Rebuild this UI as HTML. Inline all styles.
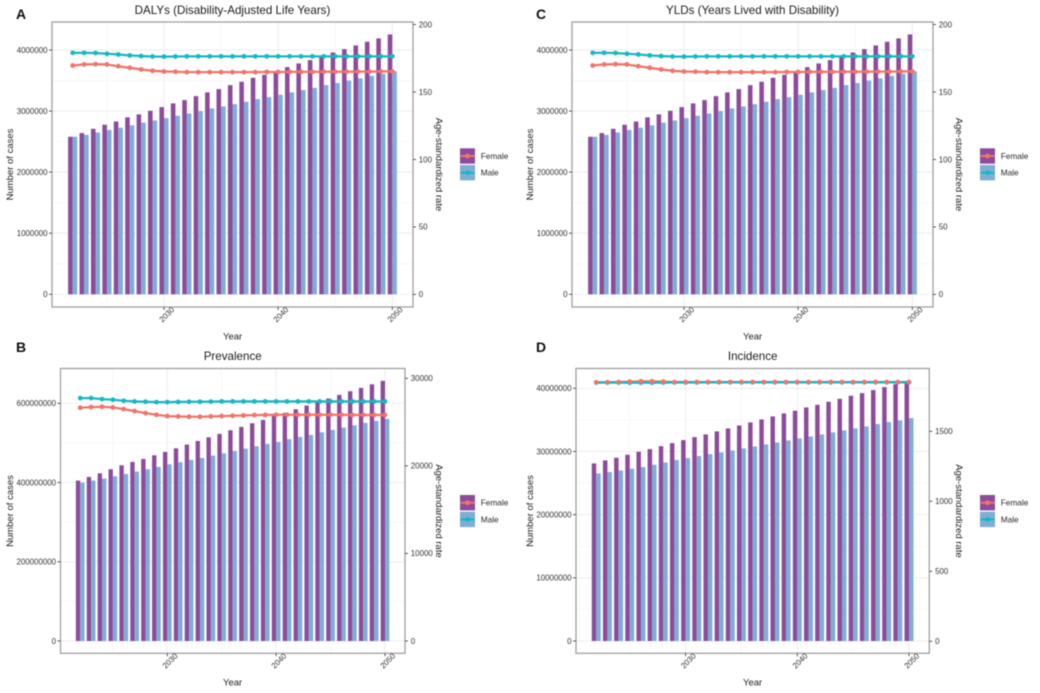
<!DOCTYPE html>
<html lang="en">
<head>
<meta charset="utf-8">
<title>Disease burden projections 2022–2050</title>
<style>
html,body{margin:0;padding:0;background:#fff;width:1040px;height:693px;overflow:hidden}
svg{display:block;filter:blur(.4px)}
text{font-family:"Liberation Sans",sans-serif;fill:#333}
.title{font-size:11.6px;fill:#1c1c1c;text-anchor:middle}
.tag{font-size:14px;font-weight:bold;fill:#111}
.axt{font-size:9.5px;fill:#1c1c1c;text-anchor:middle}
.tick{font-size:7.9px;fill:#333}
.leg{font-size:8.3px;fill:#2a2a2a}
</style>
</head>
<body>
<svg id="figure" width="1040" height="693" viewBox="0 0 1040 693" xmlns="http://www.w3.org/2000/svg">
<rect width="1040" height="693" fill="#fff"/>

<g id="panel-a">
  <g id="marks-a"></g>
  <text class="tag" x="16" y="19">A</text>
  <text class="title" x="232.5" y="14">DALYs (Disability-Adjusted Life Years)</text>
  <text class="axt" x="232.6" y="339.5">Year</text>
  <text class="axt" transform="translate(13,164.5) rotate(-90)">Number of cases</text>
  <text class="axt" transform="translate(436,164.5) rotate(90)">Age-standardized rate</text>
  <g>
    <g>
      <rect x="460" y="148.3" width="15" height="15.4" fill="#8E4B9B"/><line x1="460.5" x2="474.5" y1="156" y2="156" stroke="#F0746C" stroke-width="2"/><circle cx="467.5" cy="156" r="2.4" fill="#F0746C"/>
      <text class="leg" x="480.7" y="159">Female</text>
    </g>
    <g>
      <rect x="460" y="165" width="15" height="15.4" fill="#7FAED4"/><line x1="460.5" x2="474.5" y1="172.7" y2="172.7" stroke="#17B8C2" stroke-width="2"/><circle cx="467.5" cy="172.7" r="2.4" fill="#17B8C2"/>
      <text class="leg" x="480.7" y="175.7">Male</text>
    </g>
  </g>
</g>

<g id="panel-c">
  <g id="marks-c"></g>
  <text class="tag" x="536" y="19">C</text>
  <text class="title" x="752.5" y="14">YLDs (Years Lived with Disability)</text>
  <text class="axt" x="752.6" y="339.5">Year</text>
  <text class="axt" transform="translate(533,164.5) rotate(-90)">Number of cases</text>
  <text class="axt" transform="translate(956,164.5) rotate(90)">Age-standardized rate</text>
  <g>
    <g>
      <rect x="980" y="148.3" width="15" height="15.4" fill="#8E4B9B"/><line x1="980.5" x2="994.5" y1="156" y2="156" stroke="#F0746C" stroke-width="2"/><circle cx="987.5" cy="156" r="2.4" fill="#F0746C"/>
      <text class="leg" x="1000.7" y="159">Female</text>
    </g>
    <g>
      <rect x="980" y="165" width="15" height="15.4" fill="#7FAED4"/><line x1="980.5" x2="994.5" y1="172.7" y2="172.7" stroke="#17B8C2" stroke-width="2"/><circle cx="987.5" cy="172.7" r="2.4" fill="#17B8C2"/>
      <text class="leg" x="1000.7" y="175.7">Male</text>
    </g>
  </g>
</g>

<g id="panel-b">
  <g id="marks-b"></g>
  <text class="tag" x="16" y="352">B</text>
  <text class="title" x="232.7" y="360">Prevalence</text>
  <text class="axt" x="232.6" y="685.5">Year</text>
  <text class="axt" transform="translate(13,511) rotate(-90)">Number of cases</text>
  <text class="axt" transform="translate(436,511) rotate(90)">Age-standardized rate</text>
  <g>
    <g>
      <rect x="460" y="495" width="15" height="15.4" fill="#8E4B9B"/><line x1="460.5" x2="474.5" y1="502.7" y2="502.7" stroke="#F0746C" stroke-width="2"/><circle cx="467.5" cy="502.7" r="2.4" fill="#F0746C"/>
      <text class="leg" x="480.7" y="505.7">Female</text>
    </g>
    <g>
      <rect x="460" y="511.7" width="15" height="15.4" fill="#7FAED4"/><line x1="460.5" x2="474.5" y1="519.4" y2="519.4" stroke="#17B8C2" stroke-width="2"/><circle cx="467.5" cy="519.4" r="2.4" fill="#17B8C2"/>
      <text class="leg" x="480.7" y="522.4">Male</text>
    </g>
  </g>
</g>

<g id="panel-d">
  <g id="marks-d"></g>
  <text class="tag" x="536" y="352">D</text>
  <text class="title" x="752.7" y="360">Incidence</text>
  <text class="axt" x="752.6" y="685.5">Year</text>
  <text class="axt" transform="translate(533,511) rotate(-90)">Number of cases</text>
  <text class="axt" transform="translate(956,511) rotate(90)">Age-standardized rate</text>
  <g>
    <g>
      <rect x="980" y="495" width="15" height="15.4" fill="#8E4B9B"/><line x1="980.5" x2="994.5" y1="502.7" y2="502.7" stroke="#F0746C" stroke-width="2"/><circle cx="987.5" cy="502.7" r="2.4" fill="#F0746C"/>
      <text class="leg" x="1000.7" y="505.7">Female</text>
    </g>
    <g>
      <rect x="980" y="511.7" width="15" height="15.4" fill="#7FAED4"/><line x1="980.5" x2="994.5" y1="519.4" y2="519.4" stroke="#17B8C2" stroke-width="2"/><circle cx="987.5" cy="519.4" r="2.4" fill="#17B8C2"/>
      <text class="leg" x="1000.7" y="522.4">Male</text>
    </g>
  </g>
</g>
</svg>

<script>
// ---------- shared categories and ticks ----------
const years = [2022,2023,2024,2025,2026,2027,2028,2029,2030,2031,2032,2033,2034,2035,2036,2037,2038,2039,2040,2041,2042,2043,2044,2045,2046,2047,2048,2049,2050];
const xTickLabels = [2030,2040,2050];
const xMinorTicks = [2025,2035,2045];

// ---------- panel A: DALYs ----------
const aFemaleCases = [2580000,2640000,2710000,2776000,2830000,2897000,2946000,3005000,3065000,3126000,3180000,3245000,3306000,3360000,3425000,3480000,3545000,3594000,3640000,3720000,3780000,3835000,3890000,3960000,4015000,4075000,4135000,4190000,4255000];
const aMaleCases = [2580000,2610000,2650000,2690000,2727000,2766000,2810000,2847000,2885000,2923000,2962000,3000000,3044000,3077000,3114000,3152000,3196000,3229000,3267000,3306000,3344000,3380000,3425000,3460000,3500000,3537000,3577000,3610000,3655000];
const aFemaleRate = [169.6,170.4,170.6,170.4,169.1,167.9,166.7,165.7,165.2,165,164.7,164.7,164.7,164.7,164.7,164.7,164.7,164.8,164.8,164.9,164.9,164.9,165,165,165,165.1,165.1,165.2,165.2];
const aMaleRate = [179,179,178.9,178.3,177.8,177.1,176.6,176.3,176.2,176.3,176.4,176.4,176.4,176.4,176.4,176.4,176.4,176.4,176.4,176.4,176.4,176.4,176.4,176.4,176.4,176.4,176.4,176.4,176.4];
const aLeftTicks = [0,1000000,2000000,3000000,4000000];
const aRightTicks = [0,50,100,150,200];

// ---------- panel C: YLDs ----------
const cFemaleCases = [2580000,2640000,2710000,2776000,2830000,2897000,2946000,3005000,3065000,3126000,3180000,3245000,3306000,3360000,3425000,3480000,3545000,3594000,3640000,3720000,3780000,3835000,3890000,3960000,4015000,4075000,4135000,4190000,4255000];
const cMaleCases = [2580000,2610000,2650000,2690000,2727000,2766000,2810000,2847000,2885000,2923000,2962000,3000000,3044000,3077000,3114000,3152000,3196000,3229000,3267000,3306000,3344000,3380000,3425000,3460000,3500000,3537000,3577000,3610000,3655000];
const cFemaleRate = [169.6,170.4,170.6,170.4,169.1,167.9,166.7,165.7,165.2,165,164.7,164.7,164.7,164.7,164.7,164.7,164.7,164.8,164.8,164.9,164.9,164.9,165,165,165,165.1,165.1,165.2,165.2];
const cMaleRate = [179,179,178.9,178.3,177.8,177.1,176.6,176.3,176.2,176.3,176.4,176.4,176.4,176.4,176.4,176.4,176.4,176.4,176.4,176.4,176.4,176.4,176.4,176.4,176.4,176.4,176.4,176.4,176.4];
const cLeftTicks = [0,1000000,2000000,3000000,4000000];
const cRightTicks = [0,50,100,150,200];

// ---------- panel B: Prevalence ----------
const bFemaleCases = [404900000,414100000,423400000,433500000,443600000,452000000,459600000,468900000,477300000,486500000,495800000,505000000,514300000,522700000,532000000,540400000,549700000,558100000,568200000,575800000,585000000,594300000,603500000,612000000,621200000,630500000,638900000,648000000,656600000];
const bMaleCases = [399800000,404900000,409900000,415800000,421700000,427600000,433500000,439400000,446100000,451200000,457100000,462100000,468000000,473900000,479800000,485700000,491600000,497500000,502500000,509300000,515200000,520200000,526900000,532800000,538700000,544600000,550500000,555600000,560600000];
const bFemaleRate = [26636,26712,26750,26674,26484,26256,26027,25837,25685,25647,25609,25609,25647,25685,25723,25761,25799,25818,25837,25837,25837,25837,25837,25837,25837,25818,25818,25818,25818];
const bMaleRate = [27740,27740,27626,27549,27435,27359,27321,27283,27283,27302,27321,27321,27340,27359,27359,27359,27359,27359,27359,27359,27359,27359,27359,27359,27359,27359,27359,27359,27359];
const bLeftTicks = [0,200000000,400000000,600000000];
const bRightTicks = [0,10000,20000,30000];

// ---------- panel D: Incidence ----------
const dFemaleCases = [28110000,28590000,29010000,29480000,29960000,30380000,30850000,31330000,31800000,32280000,32700000,33180000,33650000,34120000,34600000,35070000,35550000,36020000,36450000,36970000,37390000,37870000,38340000,38820000,39240000,39720000,40190000,40660000,41030000];
const dMaleCases = [26530000,26740000,27000000,27270000,27530000,27900000,28270000,28640000,28960000,29270000,29590000,29850000,30170000,30490000,30800000,31120000,31430000,31750000,32070000,32380000,32700000,33020000,33330000,33650000,33970000,34340000,34650000,34920000,35280000];
const dFemaleRate = [1850,1850,1852,1855,1857,1857,1855,1852,1852,1852,1852,1852,1852,1852,1852,1852,1852,1852,1852,1852,1852,1852,1852,1852,1852,1852,1852,1852,1852];
const dMaleRate = [1848,1848,1848,1847,1847,1847,1848,1849,1849,1849,1850,1850,1850,1850,1850,1850,1850,1850,1850,1850,1850,1850,1850,1850,1850,1850,1850,1850,1850];
const dLeftTicks = [0,10000000,20000000,30000000,40000000];
const dRightTicks = [0,500,1000,1500];

// ---------- drawing ----------
const NS = 'http://www.w3.org/2000/svg';
const FEMALE_BAR = '#8E4B9B', MALE_BAR = '#7FAED4', FEMALE_LINE = '#F0746C', MALE_LINE = '#17B8C2';

function linear(d0, d1, r0, r1) {
  return function (v) { return r0 + (v - d0) * (r1 - r0) / (d1 - d0); };
}
function make(parent, tag, attrs) {
  const el = document.createElementNS(NS, tag);
  for (const k in attrs) el.setAttribute(k, attrs[k]);
  parent.appendChild(el);
  return el;
}

function drawPanel(key, box, xAnchors, leftAnchors, rightAnchors, series, leftTicks, rightTicks) {
  const root = document.getElementById('marks-' + key);
  const x = linear(2030, 2050, xAnchors[0], xAnchors[1]);
  const yL = linear(0, leftAnchors[2], leftAnchors[0], leftAnchors[1]);
  const yR = linear(0, rightAnchors[2], rightAnchors[0], rightAnchors[1]);
  const step = x(2031) - x(2030);
  const barW = step * 0.4;

  const bg = make(root, 'rect', {x: box.l, y: box.t, width: box.r - box.l, height: box.b - box.t, fill: '#fff'});
  
  

  // vertical grid
  xMinorTicks.forEach(function (t) {
    const g = make(root, 'line', {x1: x(t), x2: x(t), y1: box.t, y2: box.b, stroke: '#f3f3f3', 'stroke-width': .6});
    
    
  });
  xTickLabels.forEach(function (t) {
    const g = make(root, 'line', {x1: x(t), x2: x(t), y1: box.t, y2: box.b, stroke: '#ebebeb', 'stroke-width': .9});
    
    
  });
  // horizontal grid
  const tickGap = leftTicks[1] - leftTicks[0];
  leftTicks.concat([leftTicks[leftTicks.length - 1] + tickGap]).forEach(function (t) {
    const yMinor = yL(t - tickGap / 2);
    if (yMinor > box.t && yMinor < box.b) {
      const m = make(root, 'line', {x1: box.l, x2: box.r, y1: yMinor, y2: yMinor, stroke: '#f3f3f3', 'stroke-width': .6});
      
      
    }
  });
  leftTicks.forEach(function (t) {
    const g = make(root, 'line', {x1: box.l, x2: box.r, y1: yL(t), y2: yL(t), stroke: '#ebebeb', 'stroke-width': .9});
    
    
  });

  // bars
  years.forEach(function (yr, i) {
    const f = make(root, 'rect', {x: x(yr) - barW, y: yL(series.femaleCases[i]), width: barW, height: yL(0) - yL(series.femaleCases[i]), fill: FEMALE_BAR});
    
    
    const m = make(root, 'rect', {x: x(yr), y: yL(series.maleCases[i]), width: barW, height: yL(0) - yL(series.maleCases[i]), fill: MALE_BAR});
    
    
  });

  // lines
  const pts = function (arr) {
    return arr.map(function (v, i) { return x(years[i]).toFixed(2) + ',' + yR(v).toFixed(2); }).join(' ');
  };
  const fl = make(root, 'polyline', {points: pts(series.femaleRate), fill: 'none', stroke: FEMALE_LINE, 'stroke-width': 2.3, 'stroke-linejoin': 'round'});
  
  
  const ml = make(root, 'polyline', {points: pts(series.maleRate), fill: 'none', stroke: MALE_LINE, 'stroke-width': 2.3, 'stroke-linejoin': 'round'});
  
  
  years.forEach(function (yr, i) {
    const c = make(root, 'circle', {cx: x(yr), cy: yR(series.maleRate[i]), r: 2.4, fill: MALE_LINE});
    
    
  });
  years.forEach(function (yr, i) {
    const c = make(root, 'circle', {cx: x(yr), cy: yR(series.femaleRate[i]), r: 2.4, fill: FEMALE_LINE});
    
    
  });

  // border
  const border = make(root, 'rect', {x: box.l, y: box.t, width: box.r - box.l, height: box.b - box.t, fill: 'none', stroke: '#a0a0a0', 'stroke-width': 1.3});
  
  

  // left axis
  leftTicks.forEach(function (t) {
    make(root, 'line', {x1: box.l - 3, x2: box.l, y1: yL(t), y2: yL(t), stroke: '#333', 'stroke-width': .8});
    const tx = make(root, 'text', {x: box.l - 4.5, y: yL(t) + 2.8, 'text-anchor': 'end', class: 'tick'});
    tx.textContent = String(t);
    
    
  });
  // right axis
  rightTicks.forEach(function (t) {
    make(root, 'line', {x1: box.r, x2: box.r + 3, y1: yR(t), y2: yR(t), stroke: '#333', 'stroke-width': .8});
    const tx = make(root, 'text', {x: box.r + 5.8, y: yR(t) + 2.8, class: 'tick'});
    tx.textContent = String(t);
    
    
  });
  // x axis
  xTickLabels.forEach(function (t) {
    make(root, 'line', {x1: x(t), x2: x(t), y1: box.b, y2: box.b + 3, stroke: '#333', 'stroke-width': .8});
    const cx = x(t) + 2.7, cy = box.b + 7.5;
    const tx = make(root, 'text', {x: cx, y: cy + 2.8, 'text-anchor': 'middle', class: 'tick', transform: 'rotate(-45 ' + cx + ' ' + cy + ')'});
    tx.textContent = String(t);
    
    
  });
}

drawPanel('a', {l: 52, r: 413, t: 22, b: 307}, [164, 392.3], [294.3, 50, 4000000], [294.4, 24.5, 200],
  {femaleCases: aFemaleCases, maleCases: aMaleCases, femaleRate: aFemaleRate, maleRate: aMaleRate}, aLeftTicks, aRightTicks);
drawPanel('c', {l: 572, r: 933, t: 22, b: 307}, [684, 912.3], [294.3, 50, 4000000], [294.4, 24.5, 200],
  {femaleCases: cFemaleCases, maleCases: cMaleCases, femaleRate: cFemaleRate, maleRate: cMaleRate}, cLeftTicks, cRightTicks);
drawPanel('b', {l: 60.5, r: 405, t: 368.5, b: 653.3}, [167.3, 385], [641, 403.3, 600000000], [641, 378.3, 30000],
  {femaleCases: bFemaleCases, maleCases: bMaleCases, femaleRate: bFemaleRate, maleRate: bMaleRate}, bLeftTicks, bRightTicks);
drawPanel('d', {l: 576, r: 929.3, t: 368.5, b: 653.3}, [685.6, 909], [641, 388.3, 40000000], [641.3, 431.3, 1500],
  {femaleCases: dFemaleCases, maleCases: dMaleCases, femaleRate: dFemaleRate, maleRate: dMaleRate}, dLeftTicks, dRightTicks);
</script>
</body>
</html>
